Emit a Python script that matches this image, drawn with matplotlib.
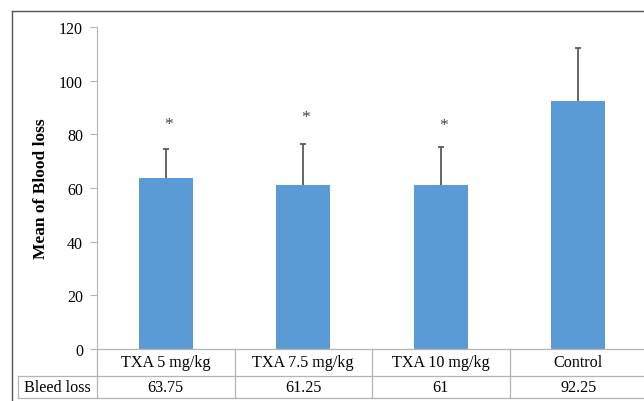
import numpy as np
import matplotlib.pyplot as plt
from matplotlib.lines import Line2D
import matplotlib.transforms as mtransforms

plt.rcParams['font.family'] = ['Liberation Serif', 'DejaVu Serif']

groups = ["TXA 5 mg/kg", "TXA 7.5 mg/kg", "TXA 10 mg/kg", "Control"]
means = [63.75, 61.25, 61, 92.25]
sds = [10.75, 15.1, 14.2, 20.0]
star_y = [84, 86.5, 83.5]
row_label = "Bleed loss"
value_labels = ["63.75", "61.25", "61", "92.25"]

W, H = 644, 402
fig = plt.figure(figsize=(W / 100, H / 100), dpi=100)
ax = fig.add_axes([97 / W, (H - 350) / H, 550 / W, 322 / H])

grid_col = "#b4b4b4"
x = np.arange(len(groups))
ax.bar(x, means, width=0.395, color="#5b9bd5", zorder=2)
eb = ax.errorbar(x, means, yerr=[np.zeros(len(sds)), sds], fmt="none",
                 ecolor="#595959", elinewidth=1.3, capsize=2.3, capthick=1.3, zorder=3)
eb[1][0].set_visible(False)  # no cap on the bar top
for i, sy in enumerate(star_y):
    ax.text(x[i] + 0.02, sy, "*", ha="center", va="center", fontsize=12.5, color="#444444")

ax.set_xlim(-0.5, len(groups) - 0.5)
ax.set_ylim(0, 120)
ax.set_yticks(np.arange(0, 121, 20))
ax.tick_params(axis="y", length=5, color=grid_col, labelsize=11.5, pad=5)
ax.tick_params(axis="x", bottom=False, labelbottom=False)
for s in ["top", "right", "bottom"]:
    ax.spines[s].set_visible(False)
ax.spines["left"].set_color(grid_col)
ax.set_ylabel("Mean of Blood loss", fontsize=12.5, fontweight="bold", labelpad=7)

# data table under the axis
px = 1 / 322.0
cw = 137.5
tr = mtransforms.blended_transform_factory(ax.transData, ax.transAxes)
row1 = -27 * px
row2 = -49 * px
lw = 0.9
ax.add_line(Line2D([-0.5, 3.5], [0, 0], transform=tr, color=grid_col, lw=lw, clip_on=False))
for yy in (row1, row2):
    ax.add_line(Line2D([-0.5 - 79 / cw, 3.5], [yy, yy], transform=tr,
                       color=grid_col, lw=lw, clip_on=False))
for xb in [-0.5, 0.5, 1.5, 2.5]:
    ax.add_line(Line2D([xb, xb], [0, row2], transform=tr, color=grid_col, lw=lw, clip_on=False))
ax.add_line(Line2D([-0.5 - 79 / cw] * 2, [row1, row2], transform=tr,
                   color=grid_col, lw=lw, clip_on=False))
for i, g in enumerate(groups):
    ax.text(x[i], row1 / 2, g, transform=tr, ha="center", va="center", fontsize=11.6)
    ax.text(x[i], (row1 + row2) / 2, value_labels[i], transform=tr,
            ha="center", va="center", fontsize=11.6)
ax.text(-0.5 - 40 / cw, (row1 + row2) / 2, row_label, transform=tr,
        ha="center", va="center", fontsize=11.6)

# outer frame
fig.add_artist(Line2D([12 / W, 12 / W], [0, 1 - 12 / H], color="#555555", lw=1))
fig.add_artist(Line2D([12 / W, 1], [1 - 12 / H, 1 - 12 / H], color="#555555", lw=1))

fig.savefig("out.png", dpi=100)
